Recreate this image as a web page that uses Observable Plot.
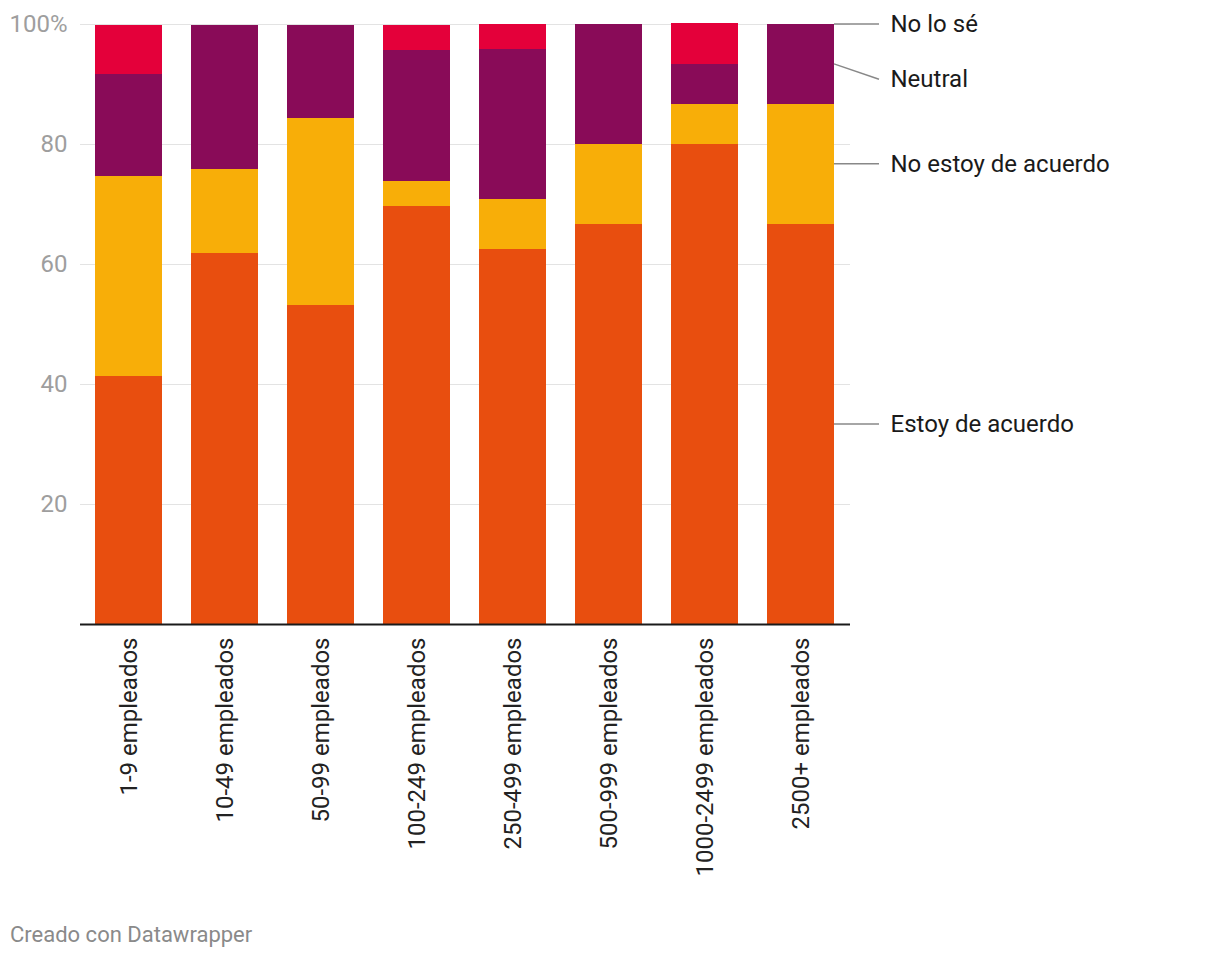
<!DOCTYPE html>
<html><head><meta charset="utf-8">
<script src="https://cdn.jsdelivr.net/npm/d3@7"></script>
<script src="https://cdn.jsdelivr.net/npm/@observablehq/plot@0.6"></script>
<style>
body{margin:0;background:#fff;font-family:Roboto,sans-serif;}
#chart{position:absolute;left:0;top:0;}
#footer{position:absolute;left:10px;top:922px;font-size:22px;color:#8a8a8a;font-family:Roboto,sans-serif;}
</style></head><body>
<div id="chart"></div>
<div id="footer">Creado con Datawrapper</div>
<script>
const categories = ["1-9 empleados","10-49 empleados","50-99 empleados","100-249 empleados","250-499 empleados","500-999 empleados","1000-2499 empleados","2500+ empleados"];
const seriesNames = ["Estoy de acuerdo","No estoy de acuerdo","Neutral","No lo sé"];
const estoy   = [41.4, 61.9, 53.1, 69.6, 62.5, 66.7, 80.0, 66.7];
const noEstoy = [33.2, 14.0, 31.2, 4.3, 8.3, 13.3, 6.7, 20.0];
const neutral = [17.1, 24.0, 15.6, 21.7, 25.0, 20.0, 6.7, 13.3];
const noLoSe  = [8.1, 0, 0, 4.3, 4.2, 0, 6.7, 0];
const colors = ["#e84e0f", "#f8ae08", "#890b58", "#e4003a"];
const yTicks = [20, 40, 60, 80, 100];
// label y positions (value units) for the right-hand series labels
const labelY = [33.35, 76.7, 90.8, 100];

const seriesValues = [estoy, noEstoy, neutral, noLoSe];
const data = categories.flatMap((c, i) => seriesNames.map((s, j) => ({cat: c, series: s, value: seriesValues[j][i]})));

// leader-line anchors: midpoints of each segment in the last bar
const lastIdx = categories.length - 1;
let cum = 0;
const anchorY = seriesValues.map(arr => { const v = arr[lastIdx]; const m = cum + v / 2; cum += v; return m; });
const labels = seriesNames.map((s, j) => ({name: s, y: labelY[j], ay: anchorY[j]}));

const plot = Plot.plot({
  width: 1220, height: 900,
  marginLeft: 80, marginRight: 370, marginTop: 24, marginBottom: 276,
  style: {fontFamily: "Roboto, sans-serif", fontSize: "24px", background: "white", overflow: "visible"},
  x: {domain: categories, paddingInner: 0.3, paddingOuter: 0.15, label: null, axis: null},
  y: {domain: [0, 100], label: null, axis: null},
  color: {domain: seriesNames, range: colors},
  marks: [
    Plot.ruleY(yTicks, {stroke: "#e3e3e3", strokeWidth: 1}),
    Plot.barY(data, {x: "cat", y: "value", fill: "series", order: seriesNames, shapeRendering: "crispEdges"}),
    Plot.ruleY([0], {stroke: "#1a1a1a", strokeWidth: 2}),
    Plot.axisY({ticks: yTicks, tickSize: 0, tickPadding: 13, tickFormat: d => d === 100 ? "100%" : d, color: "#9e9e9e", label: null, fontSize: 24}),
    Plot.axisX({tickSize: 0, tickPadding: 13, tickRotate: -90, color: "#222", label: null, fontSize: 24}),
    Plot.text(labels, {y: "y", text: "name", frameAnchor: "right", dx: 40, textAnchor: "start", fill: "#1a1a1a", fontSize: 24})
  ]
});
document.getElementById("chart").appendChild(plot);

// leader lines, positioned through the plot's own scales
const xs = plot.scale("x"), ys = plot.scale("y");
const barRight = xs.apply(categories[lastIdx]) + xs.bandwidth;
const svg = d3.select(plot);
svg.append("g").selectAll("line").data(labels).join("line")
  .attr("x1", barRight).attr("x2", barRight + 45)
  .attr("y1", d => ys.apply(d.ay)).attr("y2", d => ys.apply(d.y))
  .attr("stroke", "#888").attr("stroke-width", 1.5);
</script>
</body></html>
